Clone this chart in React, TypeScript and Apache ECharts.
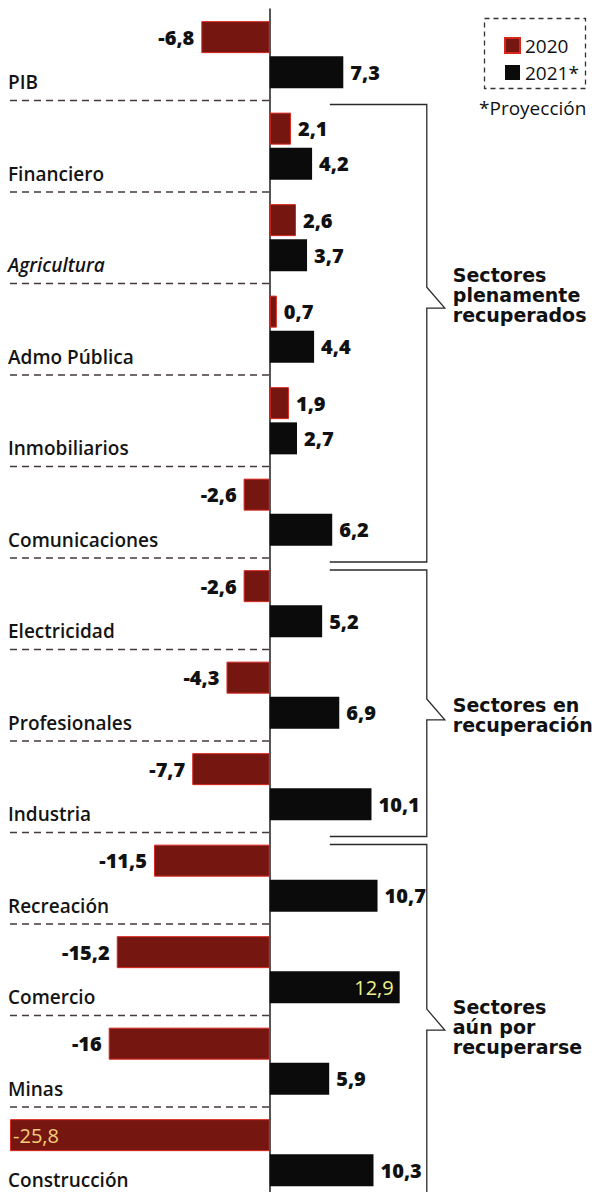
import React, { useEffect, useRef } from 'react';
import * as echarts from 'echarts';

const categories = ['PIB', 'Financiero', 'Agricultura', 'Admo Pública', 'Inmobiliarios', 'Comunicaciones', 'Electricidad', 'Profesionales', 'Industria', 'Recreación', 'Comercio', 'Minas', 'Construcción'];
const values2020 = [-6.8, 2.1, 2.6, 0.7, 1.9, -2.6, -2.6, -4.3, -7.7, -11.5, -15.2, -16, -25.8];
const values2021 = [7.3, 4.2, 3.7, 4.4, 2.7, 6.2, 5.2, 6.9, 10.1, 10.7, 12.9, 5.9, 10.3];
const seriesNames = ['2020', '2021*'];
const insideLabel2020 = ['Construcción'];
const insideLabel2021 = ['Comercio'];
const italicCategories = ['Agricultura'];
const groupLabels = ['Sectores\nplenamente\nrecuperados', 'Sectores en\nrecuperación', 'Sectores\naún por\nrecuperarse'];
const groupFirst = [1, 6, 9];
const groupLast = [5, 8, 12];
const groupNotch = [2.66, 7.16, 10.55];
const groupTextAt = [2.63, 7.22, 10.63];
const footnote = '*Proyección';

const X_MIN = -26;
const X_MAX = 32;

const fmt = (v: number) => String(v).replace('.', ',');

const RED = '#751611';
const RED_EDGE = '#d8261c';
const BLACK = '#0b0b0b';

function makeData(vals: number[], inside: string[], insideColor: string) {
  return vals.map((v, i) => {
    const isInside = inside.includes(categories[i]);
    return {
      value: v,
      label: isInside
        ? { position: v < 0 ? 'insideLeft' : 'insideRight', color: insideColor, fontWeight: 400, distance: v < 0 ? 3 : 6 }
        : { position: v < 0 ? 'left' : 'right' },
    };
  });
}

const valueLabel = {
  show: true,
  distance: 7,
  color: '#111',
  fontFamily: 'Open Sans',
  fontWeight: 800,
  fontSize: 20,
  formatter: (p: any) => fmt(p.value),
};

function buildOption() {
  const sepData = categories.slice(0, -1).map((_, i) => [0, i]);
  const catData = categories.map((_, i) => [0, i]);
  const groupData = groupLabels.map((_, g) => [0, g]);
  return {
    animation: false,
    backgroundColor: '#ffffff',
    grid: { left: 8, right: 0, top: 9, height: 13 * 91.5, outerBoundsMode: 'none', containLabel: false },
    xAxis: {
      type: 'value',
      min: X_MIN,
      max: X_MAX,
      show: false,
    },
    yAxis: {
      type: 'category',
      inverse: true,
      data: categories,
      axisTick: { show: false },
      axisLine: { show: true, onZero: true, lineStyle: { color: '#1e1e1e', width: 1.5 } },
      splitLine: { show: false },
      axisLabel: { show: false },
    },
    legend: {
      orient: 'vertical',
      left: 499,
      top: 31,
      itemWidth: 15,
      itemHeight: 15,
      itemGap: 8,
      icon: 'rect',
      selectedMode: false,
      data: seriesNames,
      textStyle: { fontFamily: 'Open Sans', fontSize: 19, color: '#111', lineHeight: 18 },
    },
    graphic: [
      {
        type: 'rect',
        silent: true,
        shape: { x: 484.5, y: 18.5, width: 101, height: 70 },
        style: { fill: 'none', stroke: '#333', lineWidth: 1.3, lineDash: [5, 4] },
      },
      {
        type: 'text',
        x: 479,
        y: 108,
        style: { text: footnote, fontFamily: 'Open Sans', fontSize: 19, fill: '#111', align: 'left', verticalAlign: 'middle' },
      },
    ],
    series: [
      {
        name: seriesNames[0],
        type: 'bar',
        barWidth: 32,
        barGap: '10%',
        itemStyle: { color: RED, borderColor: RED_EDGE, borderWidth: 1 },
        label: valueLabel,
        data: makeData(values2020, insideLabel2020, '#f5cf7a'),
      },
      {
        name: seriesNames[1],
        type: 'bar',
        barWidth: 32,
        itemStyle: { color: BLACK },
        label: valueLabel,
        data: makeData(values2021, insideLabel2021, '#eef28c'),
      },
      {
        type: 'custom',
        name: 'categoryLabels',
        silent: true,
        encode: { x: 0, y: 1 },
        data: catData,
        renderItem: (params: any, api: any) => {
          const i = params.dataIndex;
          const c = api.coord([X_MIN, i]);
          return {
            type: 'text',
            x: c[0],
            y: c[1] + 27.5,
            style: {
              text: categories[i],
              fontFamily: 'Open Sans',
              fontWeight: 600,
              fontStyle: italicCategories.includes(categories[i]) ? 'italic' : 'normal',
              fontSize: 19,
              fill: '#141414',
              align: 'left',
              verticalAlign: 'middle',
            },
          };
        },
      },
      {
        type: 'custom',
        name: 'separators',
        silent: true,
        encode: { x: 0, y: 1 },
        data: sepData,
        z: 1,
        renderItem: (params: any, api: any) => {
          const i = params.dataIndex;
          const c = api.coord([0, i]);
          const band = api.size([0, 1])[1];
          const left = api.coord([X_MIN, i])[0];
          const y = c[1] + band / 2;
          return {
            type: 'line',
            shape: { x1: left + 2, y1: y, x2: c[0], y2: y },
            style: { stroke: '#43383a', lineWidth: 1.4, lineDash: [7, 5] },
          };
        },
      },
      {
        type: 'custom',
        name: 'groups',
        silent: true,
        encode: { x: 0, y: 1 },
        data: groupData,
        renderItem: (params: any, api: any) => {
          const g = params.dataIndex;
          const zero = api.coord([0, 0]);
          const band = api.size([0, 1])[1];
          const rowTop = (k: number) => zero[1] - band / 2 + k * band;
          const rowCenter = (k: number) => zero[1] + k * band;
          const x0 = zero[0] + 60;
          const xv = zero[0] + 157;
          const xt = zero[0] + 175;
          const xText = zero[0] + 183;
          const top = rowTop(groupFirst[g]) + (g === 0 ? 4 : 12);
          const bottom = rowTop(groupLast[g] + 1) + 4;
          const ny = rowCenter(groupNotch[g]);
          const ty = rowCenter(groupTextAt[g]);
          return {
            type: 'group',
            children: [
              {
                type: 'polyline',
                shape: {
                  points: [
                    [x0, top],
                    [xv, top],
                    [xv, ny - 11],
                    [xt, ny + 10],
                    [xv, ny + 10],
                    [xv, bottom],
                    [x0, bottom],
                  ],
                },
                style: { stroke: '#2a2a2a', lineWidth: 1.3, fill: 'none' },
              },
              {
                type: 'text',
                x: xText,
                y: ty,
                style: {
                  text: groupLabels[g],
                  fontFamily: 'DejaVu Sans',
                  fontWeight: 'bold',
                  fontSize: 19,
                  lineHeight: 20,
                  fill: '#111',
                  align: 'left',
                  verticalAlign: 'middle',
                },
              },
            ],
          };
        },
      },
    ],
  };
}

export default function App() {
  const ref = useRef<HTMLDivElement>(null);
  useEffect(() => {
    if (!ref.current) return;
    const chart = echarts.init(ref.current, null, { renderer: 'svg' });
    chart.setOption(buildOption() as any);
    return () => chart.dispose();
  }, []);
  return (
    <div
      ref={ref}
      style={{ position: 'absolute', left: 0, top: 0, width: 592, height: 1192, background: '#ffffff' }}
    />
  );
}
